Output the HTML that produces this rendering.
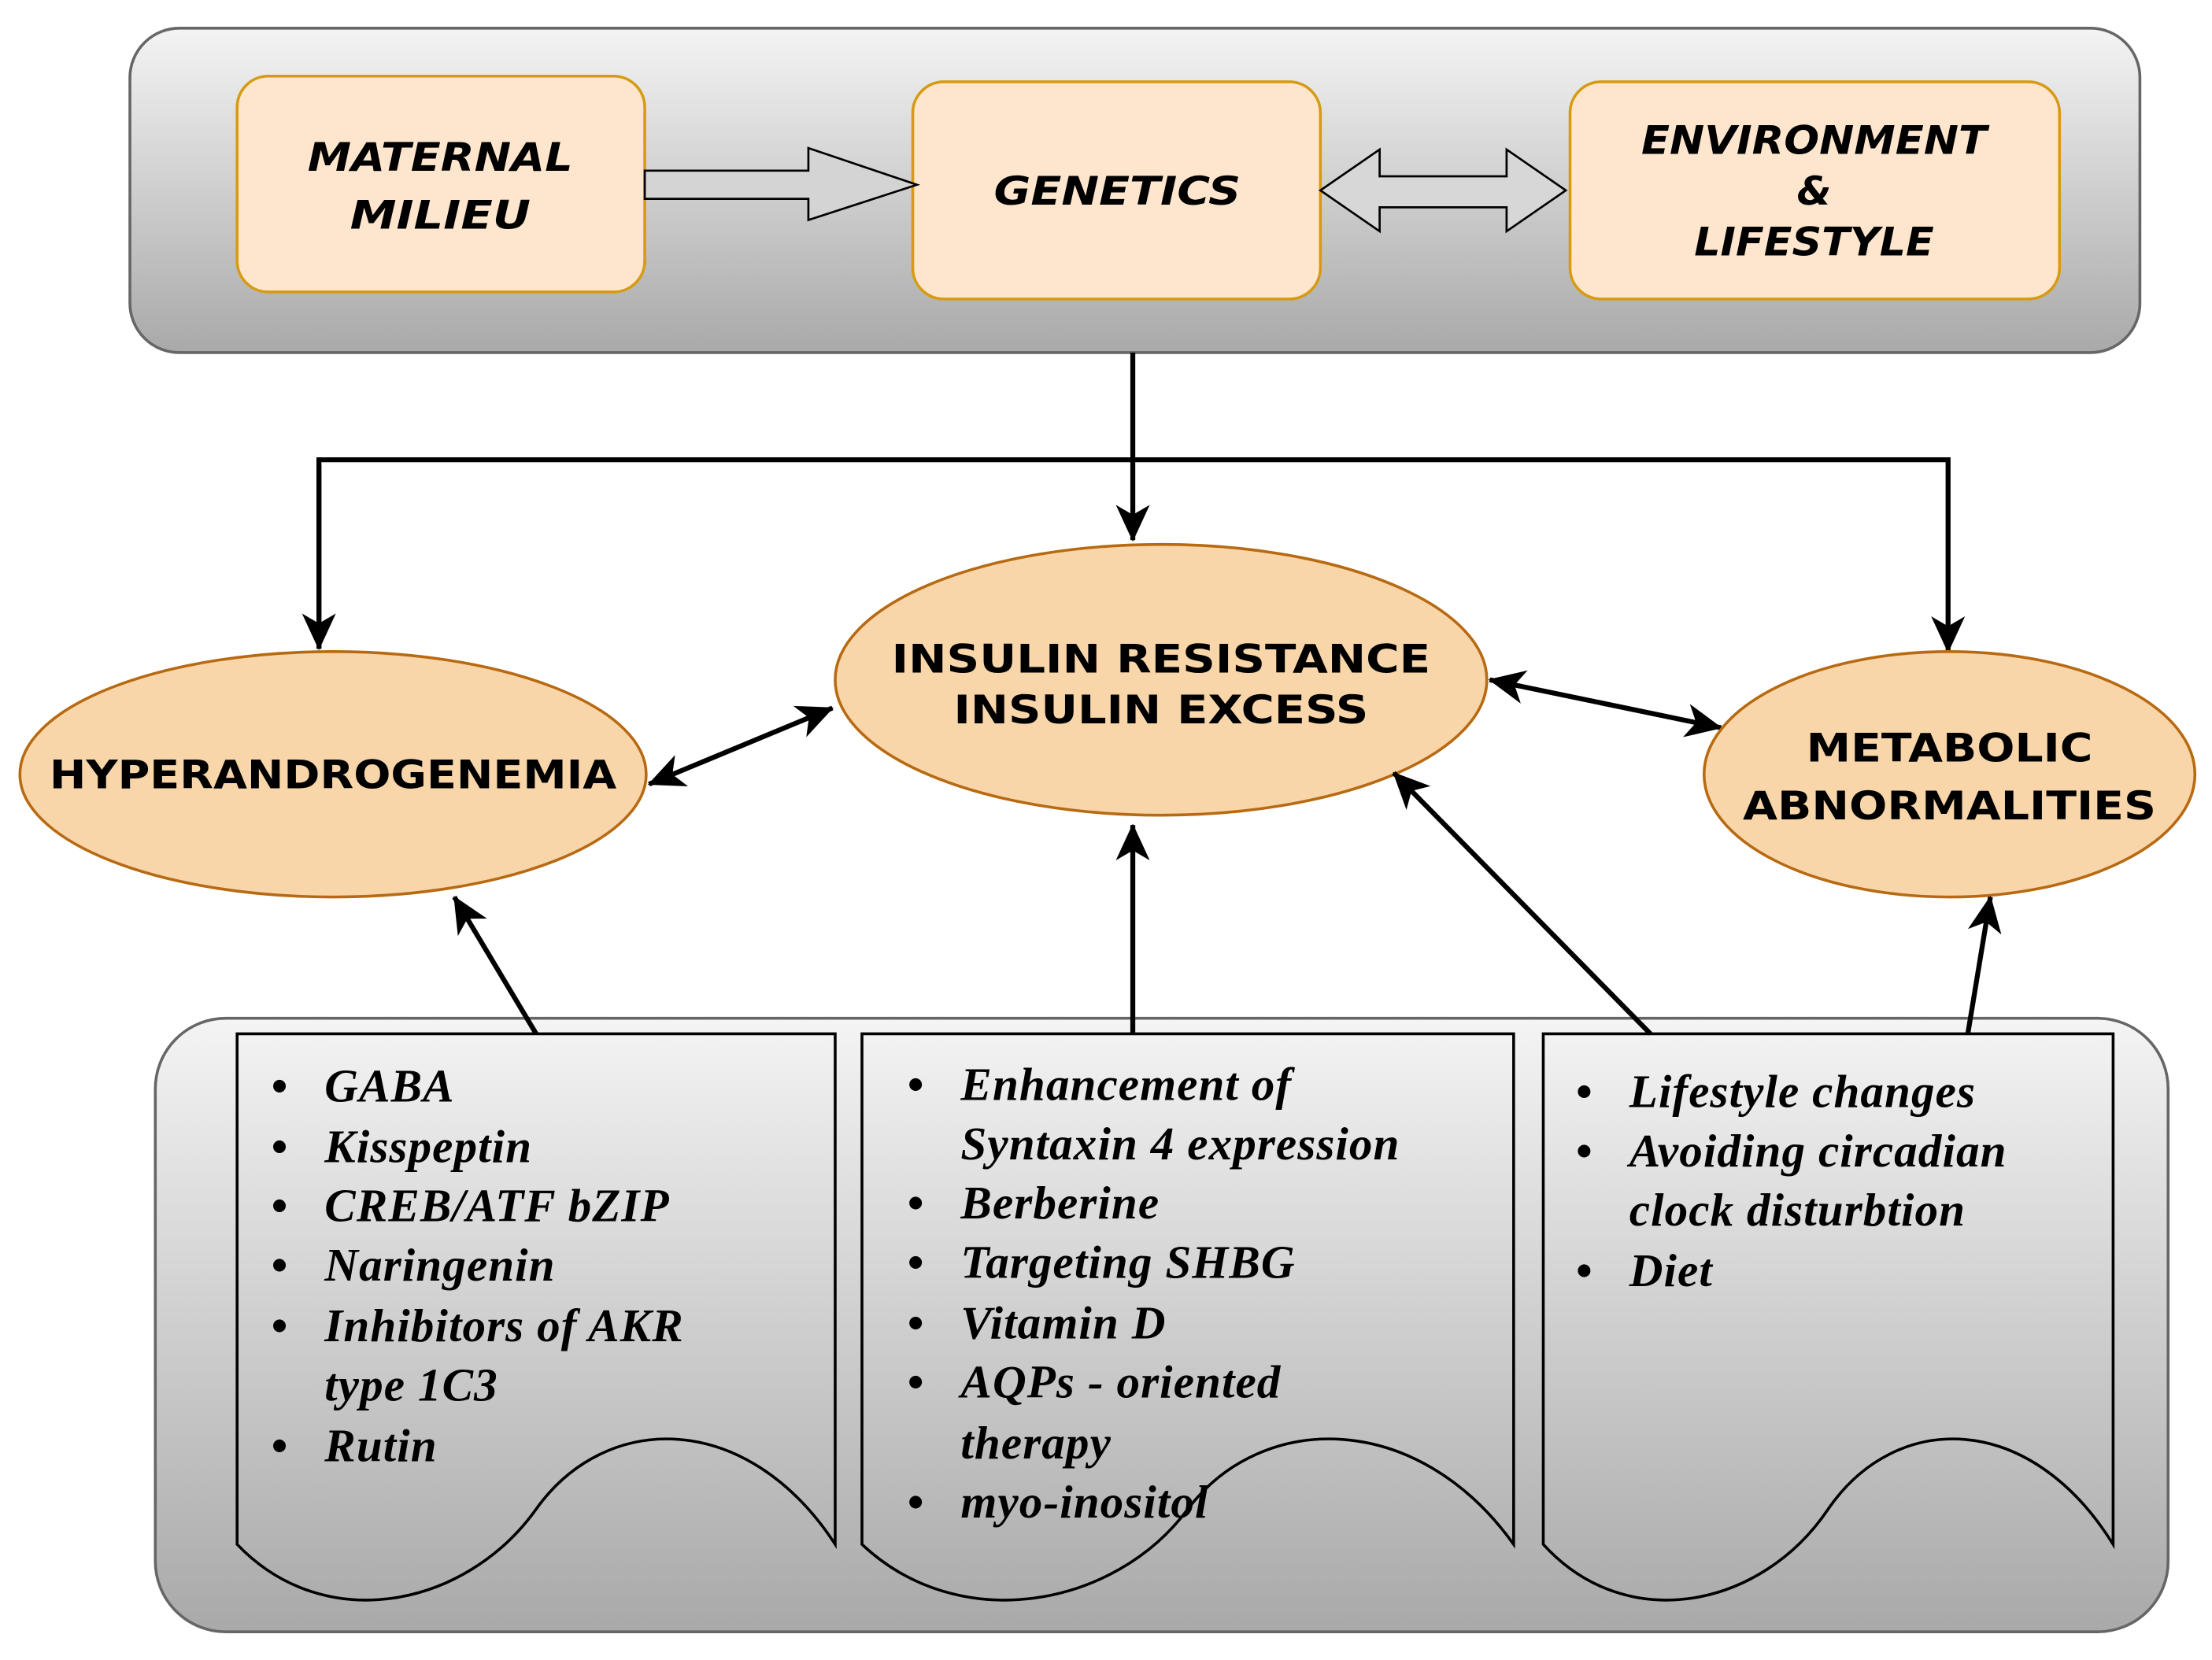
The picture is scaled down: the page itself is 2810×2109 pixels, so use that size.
<!DOCTYPE html>
<html><head><meta charset="utf-8"><style>
html,body{margin:0;padding:0;background:#fff;}
svg{display:block;}
.h{font-family:"DejaVu Sans",sans-serif;font-weight:bold;font-size:28px;text-anchor:middle;}
.hi{font-family:"DejaVu Sans",sans-serif;font-weight:bold;font-style:oblique;font-size:28px;text-anchor:middle;}
.l{font-family:"Liberation Serif",serif;font-weight:bold;font-style:italic;font-size:33px;letter-spacing:0.6px;}
</style></head><body>
<svg width="2810" height="2109" viewBox="0 0 1568 1177" xmlns="http://www.w3.org/2000/svg">
<defs>
<linearGradient id="g" x1="0" y1="0" x2="0" y2="1"><stop offset="0" stop-color="#f4f4f4"/><stop offset="1" stop-color="#a9a9a9"/></linearGradient>
<marker id="ab" markerWidth="26" markerHeight="26" refX="25" refY="13" orient="auto-start-reverse" markerUnits="userSpaceOnUse" viewBox="0 0 26 26"><path d="M0,1 L26,13 L0,25 L7,13z" fill="#000"/></marker>
</defs>
<rect x="92" y="20" width="1425" height="230" rx="35" fill="url(#g)" stroke="#666" stroke-width="2"/>
<rect x="168" y="54" width="289" height="153" rx="22" fill="#fde6cd" stroke="#d69b12" stroke-width="2"/>
<rect x="647" y="58" width="289" height="154" rx="22" fill="#fde6cd" stroke="#d69b12" stroke-width="2"/>
<rect x="1113" y="58" width="347" height="154" rx="22" fill="#fde6cd" stroke="#d69b12" stroke-width="2"/>
<text class="hi" x="312" y="121" textLength="188" lengthAdjust="spacingAndGlyphs">MATERNAL</text>
<text class="hi" x="312" y="162" textLength="128" lengthAdjust="spacingAndGlyphs">MILIEU</text>
<text class="hi" x="792" y="145" textLength="175" lengthAdjust="spacingAndGlyphs">GENETICS</text>
<text class="hi" x="1286" y="109" textLength="245" lengthAdjust="spacingAndGlyphs">ENVIRONMENT</text>
<text class="hi" x="1286" y="145">&amp;</text>
<text class="hi" x="1286" y="181" textLength="170" lengthAdjust="spacingAndGlyphs">LIFESTYLE</text>
<path d="M457,121 L573,121 L573,105 L650,131 L573,156 L573,141 L457,141z" fill="#d4d4d4" stroke="#000" stroke-width="1.5"/>
<path d="M936,135 L978,106 L978,125 L1068,125 L1068,106 L1110,135 L1068,164 L1068,147 L978,147 L978,164z" fill="#d7d7d7" stroke="#000" stroke-width="1.5"/>
<g stroke="#000" stroke-width="3.5" fill="none">
<line x1="803" y1="250" x2="803" y2="383" marker-end="url(#ab)"/>
<polyline points="226,460 226,326 1381,326 1381,462" marker-end="url(#ab)"/>
<line x1="226" y1="330" x2="226" y2="460" marker-end="url(#ab)"/>
<line x1="460" y1="556" x2="590" y2="502" marker-start="url(#ab)" marker-end="url(#ab)"/>
<line x1="1056" y1="482" x2="1220" y2="516" marker-start="url(#ab)" marker-end="url(#ab)"/>
</g>
<ellipse cx="236" cy="549" rx="222" ry="87" fill="#f8d6aa" stroke="#b86a12" stroke-width="2"/>
<ellipse cx="823" cy="482" rx="231" ry="96" fill="#f8d6aa" stroke="#b86a12" stroke-width="2"/>
<ellipse cx="1382" cy="549" rx="174" ry="87" fill="#f8d6aa" stroke="#b86a12" stroke-width="2"/>
<text class="h" x="236" y="559" textLength="402" lengthAdjust="spacingAndGlyphs">HYPERANDROGENEMIA</text>
<text class="h" x="823" y="477" textLength="382" lengthAdjust="spacingAndGlyphs">INSULIN RESISTANCE</text>
<text class="h" x="823" y="513" textLength="294" lengthAdjust="spacingAndGlyphs">INSULIN EXCESS</text>
<text class="h" x="1382" y="540" textLength="203" lengthAdjust="spacingAndGlyphs">METABOLIC</text>
<text class="h" x="1382" y="581" textLength="293" lengthAdjust="spacingAndGlyphs">ABNORMALITIES</text>
<rect x="110" y="722" width="1427" height="435" rx="50" fill="url(#g)" stroke="#666" stroke-width="2"/>
<g fill="none" stroke="#000" stroke-width="2">
<path d="M168,733 L592,733 L592,1095 C530,1000 430,1000 380,1070 C330,1140 230,1160 168,1095z"/>
<path d="M611,733 L1073,733 L1073,1095 C1005,1000 895,1000 842,1070 C790,1140 680,1160 611,1095z"/>
<path d="M1094,733 L1498,733 L1498,1095 C1439,1000 1344,1000 1296,1070 C1249,1140 1153,1160 1094,1095z"/>
</g>
<g stroke="#000" stroke-width="3.5" fill="none">
<line x1="380" y1="733" x2="322" y2="636" marker-end="url(#ab)"/>
<line x1="803" y1="733" x2="803" y2="585" marker-end="url(#ab)"/>
<line x1="1170" y1="733" x2="988" y2="548" marker-end="url(#ab)"/>
<line x1="1395" y1="733" x2="1411" y2="636" marker-end="url(#ab)"/>
</g>
<g class="l">
<text x="192" y="781">•</text><text x="230" y="781">GABA</text>
<text x="192" y="824">•</text><text x="230" y="824">Kisspeptin</text>
<text x="192" y="866">•</text><text x="230" y="866">CREB/ATF bZIP</text>
<text x="192" y="908">•</text><text x="230" y="908">Naringenin</text>
<text x="192" y="951">•</text><text x="230" y="951">Inhibitors of AKR</text>
<text x="230" y="993">type 1C3</text>
<text x="192" y="1036">•</text><text x="230" y="1036">Rutin</text>
<text x="643" y="780">•</text><text x="681" y="780">Enhancement of</text>
<text x="681" y="822">Syntaxin 4 expression</text>
<text x="643" y="864">•</text><text x="681" y="864">Berberine</text>
<text x="643" y="906">•</text><text x="681" y="906">Targeting SHBG</text>
<text x="643" y="949">•</text><text x="681" y="949">Vitamin D</text>
<text x="643" y="991">•</text><text x="681" y="991">AQPs - oriented</text>
<text x="681" y="1034">therapy</text>
<text x="643" y="1076">•</text><text x="681" y="1076">myo-inositol</text>
<text x="1117" y="785">•</text><text x="1155" y="785">Lifestyle changes</text>
<text x="1117" y="827">•</text><text x="1155" y="827">Avoiding circadian</text>
<text x="1155" y="869">clock disturbtion</text>
<text x="1117" y="912">•</text><text x="1155" y="912">Diet</text>
</g>
</svg>
</body></html>
